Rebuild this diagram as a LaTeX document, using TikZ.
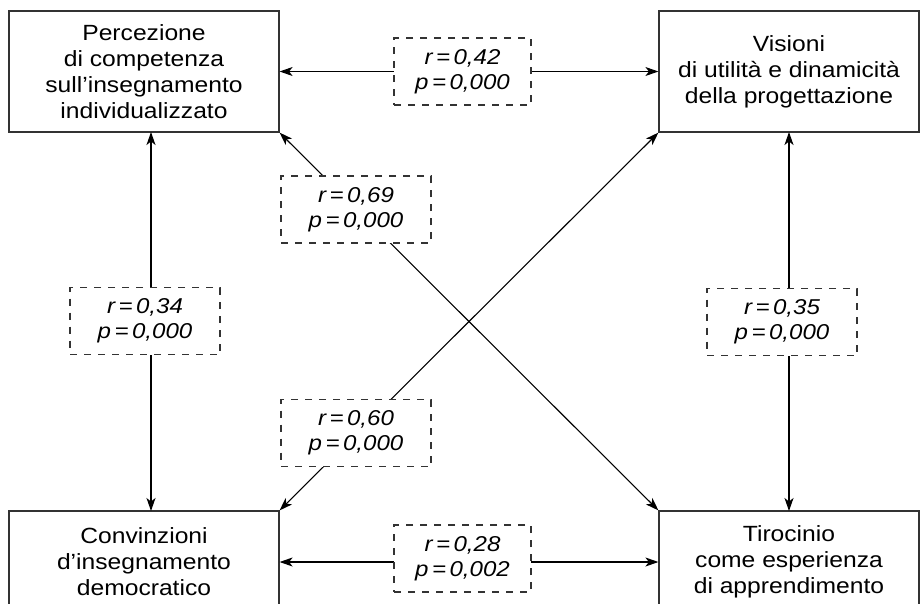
\documentclass[tikz,border=0pt]{standalone}
\usepackage{fontspec}
\setmainfont{Liberation Sans}
\newfontfamily\diagfont[FakeStretch=1.12,Ligatures=TeX]{Liberation Sans}
\usetikzlibrary{arrows.meta}

\tikzset{
  varbox/.style={draw=black!80, line width=1.2pt, align=center, inner sep=0pt,
    font=\diagfont\fontsize{22}{26}\selectfont},
  corrbox/.style={draw=black!80, line width=1.1pt, dash pattern=on 7pt off 7pt,
    fill=white, align=center, inner sep=0pt, minimum height=67pt,
    font=\diagfont\fontsize{21.5}{25}\selectfont\itshape},
  link/.style={line width=1.1pt, {Stealth[length=13pt,width=9pt,inset=3.5pt]}-{Stealth[length=13pt,width=9pt,inset=3.5pt]}}
}
\newcommand{\corr}[2]{r\kern3.5pt=\kern3.5pt#1\\p\kern3.5pt=\kern3.5pt#2}

\begin{document}
\begin{tikzpicture}[x=1pt, y=-1pt]
  \useasboundingbox (0,0) rectangle (924,603);
  \clip (0,0) rectangle (924,603);

  % variables
  \node[varbox, minimum width=270pt, minimum height=121pt] (tl) at (144,71.5)
    {Percezione\\di competenza\\sull’insegnamento\\individualizzato};
  \node[varbox, minimum width=260pt, minimum height=121pt] (tr) at (789,71.5)
    {Visioni\\di utilità e dinamicità\\della progettazione};
  \node[varbox, minimum width=270pt, minimum height=102pt] (bl) at (144,562)
    {Convinzioni\\d’insegnamento\\democratico};
  \node[varbox, minimum width=260pt, minimum height=102pt] (br) at (789,562)
    {Tirocinio\\come esperienza\\di apprendimento};

  % anchor points of the vertical links
  \coordinate (tlv) at (151,132);
  \coordinate (blv) at (151,511);
  \coordinate (trv) at (789,132);
  \coordinate (brv) at (789,511);

  % links
  \draw[link] (tl.east) -- (tr.west);
  \draw[link] (bl.east) -- (br.west);
  \draw[link] (tlv) -- (blv);
  \draw[link] (trv) -- (brv);
  \draw[link] (tl.south east) -- (br.north west);
  \draw[link] (tr.south west) -- (bl.north east);

  % correlation labels
  \node[corrbox, minimum width=137pt] (c42) at (462.5,71.5) {\corr{0,42}{0,000}};
  \node[corrbox, minimum width=137pt] (c28) at (462.5,558.5) {\corr{0,28}{0,002}};
  \node[corrbox, minimum width=150pt] (c34) at (145,321) {\corr{0,34}{0,000}};
  \node[corrbox, minimum width=150pt] (c35) at (782,322) {\corr{0,35}{0,000}};
  \node[corrbox, minimum width=150pt] (c69) at (356,209.5) {\corr{0,69}{0,000}};
  \node[corrbox, minimum width=150pt] (c60) at (356,433) {\corr{0,60}{0,000}};
\end{tikzpicture}
\end{document}
